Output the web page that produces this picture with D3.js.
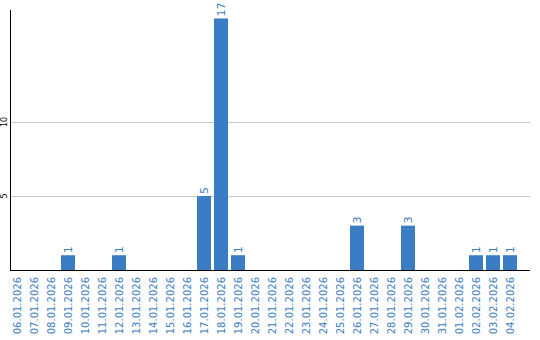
<!DOCTYPE html>
<html>
<head>
<meta charset="utf-8">
<script src="https://cdn.jsdelivr.net/npm/d3@7"></script>
<style>
  body { margin: 0; background: #fff; }
  text { font-family: "DejaVu Sans", Verdana, sans-serif; }
</style>
</head>
<body>
<svg id="chart" width="540" height="340"></svg>
<script>
const dates = ["06.01.2026","07.01.2026","08.01.2026","09.01.2026","10.01.2026","11.01.2026",
  "12.01.2026","13.01.2026","14.01.2026","15.01.2026","16.01.2026","17.01.2026","18.01.2026",
  "19.01.2026","20.01.2026","21.01.2026","22.01.2026","23.01.2026","24.01.2026","25.01.2026",
  "26.01.2026","27.01.2026","28.01.2026","29.01.2026","30.01.2026","31.01.2026","01.02.2026",
  "02.02.2026","03.02.2026","04.02.2026"];
const counts = [0,0,0,1,0,0,1,0,0,0,0,5,17,1,0,0,0,0,0,0,3,0,0,3,0,0,0,1,1,1];
const yTicks = [5, 10];

const blue = "#3b7dc4";
const plot = { left: 10, right: 530, top: 10, bottom: 270 };

const svg = d3.select("#chart");

const x = d3.scaleBand()
  .domain(dates)
  .range([plot.left, plot.left + 17 * dates.length])
  .padding(0);

const y = d3.scaleLinear()
  .domain([0, 17.57])
  .range([plot.bottom, plot.top]);

// gridlines
svg.append("g")
  .selectAll("line")
  .data(yTicks)
  .join("line")
  .attr("x1", plot.left)
  .attr("x2", plot.right)
  .attr("y1", d => Math.round(y(d)) + 0.5)
  .attr("y2", d => Math.round(y(d)) + 0.5)
  .attr("stroke", "#c8c8c8")
  .attr("stroke-width", 1);

// y tick labels (rotated)
svg.append("g")
  .selectAll("text")
  .data(yTicks)
  .join("text")
  .attr("transform", d => `translate(7,${y(d)}) rotate(-90)`)
  .attr("text-anchor", "middle")
  .style("font-size", "8px")
  .attr("fill", "#000")
  .text(d => d);

const rows = counts.map((v, i) => ({ date: dates[i], v })).filter(d => d.v > 0);

// bars
const barW = x.bandwidth() - 3;
const mid = d => x(d) + barW / 2;
svg.append("g")
  .selectAll("rect")
  .data(rows)
  .join("rect")
  .attr("x", d => x(d.date))
  .attr("y", d => y(d.v))
  .attr("width", barW)
  .attr("height", d => plot.bottom - y(d.v))
  .attr("fill", blue);

// value labels
svg.append("g")
  .selectAll("text")
  .data(rows)
  .join("text")
  .attr("transform", d => `translate(${mid(d.date) + 4},${y(d.v) - 2}) rotate(-90)`)
  .attr("text-anchor", "start")
  .style("font-size", "11px")
  .attr("fill", blue)
  .text(d => d.v);

// axes lines
svg.append("line")
  .attr("x1", plot.left + 0.5).attr("x2", plot.left + 0.5)
  .attr("y1", plot.top).attr("y2", plot.bottom)
  .attr("stroke", "#000");
svg.append("line")
  .attr("x1", plot.left).attr("x2", plot.right)
  .attr("y1", plot.bottom + 0.5).attr("y2", plot.bottom + 0.5)
  .attr("stroke", "#000");

// x labels
svg.append("g")
  .selectAll("text")
  .data(dates)
  .join("text")
  .attr("transform", d => `translate(${mid(d) + 3.5},${plot.bottom + 7}) rotate(-90)`)
  .attr("text-anchor", "end")
  .style("font-size", "10px")
  .attr("fill", blue)
  .text(d => d);
</script>
</body>
</html>
